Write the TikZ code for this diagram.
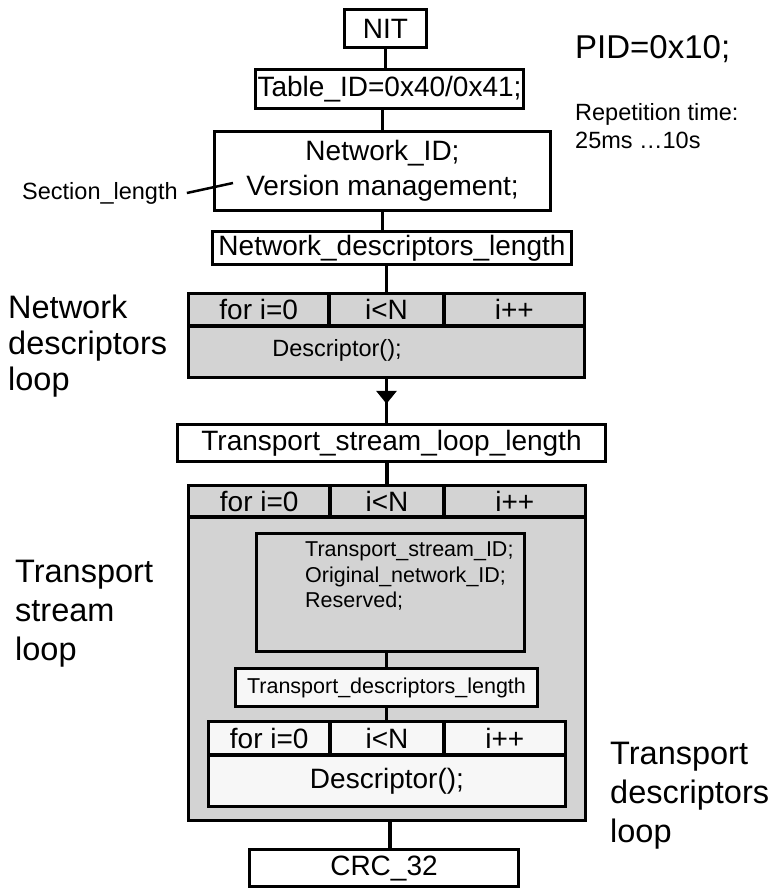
\documentclass[tikz,border=0pt]{standalone}
\usepackage{fontspec}
\setmainfont{Liberation Sans}
\usetikzlibrary{arrows.meta,positioning,decorations.markings}
\definecolor{LoopGray}{HTML}{D3D3D3}
\definecolor{PaleGray}{HTML}{F7F7F7}
\tikzset{
  box/.style={draw, line width=3.4pt, fill=white, inner sep=0pt, outer sep=0pt, align=center, font=\fontsize{28}{35}\selectfont},
  graybox/.style={box, fill=LoopGray},
  palebox/.style={box, fill=PaleGray},
  cell/.style={box, fill=none},
  smalltext/.style={inner sep=0pt, font=\fontsize{23.5}{28}\selectfont},
  tinytext/.style={inner sep=0pt, font=\fontsize{21.5}{25.5}\selectfont},
  note/.style={inner sep=0pt, align=left, anchor=north west, font=\fontsize{32.5}{39}\selectfont},
  link/.style={line width=3.4pt},
  arr/.style={line width=3.4pt, postaction={decorate},
    decoration={markings, mark=at position 0.56 with {\arrow{Triangle[length=13pt,width=20pt]}}}}
}
\begin{document}
\begin{tikzpicture}[x=1pt,y=-1pt]
\useasboundingbox (0,0) rectangle (774,890);
% header part
\node[box,minimum width=82pt,minimum height=38pt] (nit) at (385.5,28.5) {NIT};
\node[box,minimum width=268pt,minimum height=39pt] (tab) at (389.5,89) {Table\_ID=0x40/0x41;};
\node[box,minimum width=336pt,minimum height=79pt] (nid) at (382.5,171) {Network\_ID;\\Version management;};
\node[box,minimum width=359pt,minimum height=33pt] (ndl) at (392,248) {Network\_descriptors\_length};
\node[smalltext,anchor=west] (sec) at (22,193) {Section\_length};
\coordinate (secend) at (233,183);
\node[note,font=\fontsize{33}{40}\selectfont] (pid) at (575,35) {PID=0x10;};
\node[note,font=\fontsize{23.5}{28}\selectfont] (rep) at (575,103) {Repetition time:\\25ms …10s};
% network descriptors loop
\node[graybox,minimum width=396pt,minimum height=84pt] (ndloop) at (386.5,335.5) {};
\node[cell,minimum width=140.5pt,minimum height=32.5pt,anchor=north west] (nfor) at (ndloop.north west) {for i=0};
\node[cell,minimum width=115pt,minimum height=32.5pt,right=0pt of nfor] (ncond) {i<N};
\node[cell,minimum width=140.5pt,minimum height=32.5pt,right=0pt of ncond] (ninc) {i++};
\node[smalltext] (ndesc) at (337,350) {Descriptor();};
\node[note,font=\fontsize{32.5}{36}\selectfont] (ndlab) at (8,295) {Network\\descriptors\\loop};
% transport stream loop
\node[box,minimum width=428pt,minimum height=37pt] (tsl) at (391.5,443) {Transport\_stream\_loop\_length};
\node[graybox,minimum width=397pt,minimum height=335pt] (tsloop) at (387,653) {};
\node[cell,minimum width=141.5pt,minimum height=31.5pt,anchor=north west] (tfor) at (tsloop.north west) {for i=0};
\node[cell,minimum width=114pt,minimum height=31.5pt,right=0pt of tfor] (tcond) {i<N};
\node[cell,minimum width=141.5pt,minimum height=31.5pt,right=0pt of tcond] (tinc) {i++};
\node[graybox,minimum width=268pt,minimum height=118pt] (tsinfo) at (390.5,592.5) {};
\node[tinytext,align=left,anchor=north west] (tsinfotext) at (305,542) {Transport\_stream\_ID;\\Original\_network\_ID;\\Reserved;};
\node[palebox,minimum width=302pt,minimum height=38pt,font=\fontsize{21.5}{25.5}\selectfont] (tdl) at (386.5,687.5) {Transport\_descriptors\_length};
\node[palebox,minimum width=357pt,minimum height=85pt] (tdloop) at (387,764) {};
\node[cell,minimum width=121.5pt,minimum height=33.5pt,anchor=north west] (dfor) at (tdloop.north west) {for i=0};
\node[cell,minimum width=114pt,minimum height=33.5pt,right=0pt of dfor] (dcond) {i<N};
\node[cell,minimum width=121.5pt,minimum height=33.5pt,right=0pt of dcond] (dinc) {i++};
\node[inner sep=0pt,font=\fontsize{28}{35}\selectfont] (ddesc) at (387,781) {Descriptor();};
\node[note] (tslab) at (15,560) {Transport\\stream\\loop};
\node[note] (tdlab) at (610,742) {Transport\\descriptors\\loop};
\node[box,minimum width=269pt,minimum height=37pt] (crc) at (384,868) {CRC\_32};
% connectors
\draw[link] (nit.south) -- (nit.south |- tab.north);
\draw[link] (nid.north |- tab.south) -- (nid.north);
\draw[link] (nid.south) -- (nid.south |- ndl.north);
\draw[link] (ndloop.north |- ndl.south) -- (ndloop.north);
\draw[line width=2.5pt] ([xshift=9pt]sec.east) -- (secend);
\draw[arr] (ndloop.south) -- (ndloop.south |- tsl.north);
\draw[link] (tsloop.north |- tsl.south) -- (tsloop.north);
\draw[link] (tdl.north |- tsinfo.south) -- (tdl.north);
\draw[link] (tdl.south) -- (tdl.south |- tdloop.north);
\draw[link] ([xshift=3pt]tsloop.south) -- ([xshift=3pt]tsloop.south |- crc.north);
\end{tikzpicture}
\end{document}
